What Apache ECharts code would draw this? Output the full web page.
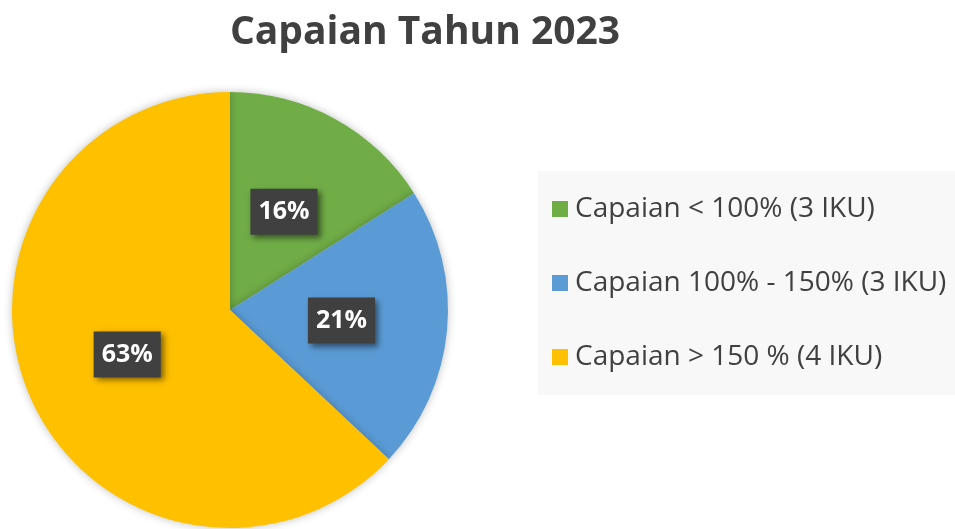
<!DOCTYPE html>
<html>
<head>
<meta charset="utf-8">
<script src="https://cdn.jsdelivr.net/npm/echarts@6/dist/echarts.min.js"></script>
<style>
  html, body { margin: 0; padding: 0; background: #fff; }
  #chart { width: 955px; height: 529px; }
</style>
</head>
<body>
<div id="chart"></div>
<script>
const kategori = ['Capaian < 100% (3 IKU)', 'Capaian 100% - 150% (3 IKU)', 'Capaian > 150 % (4 IKU)'];
const persen = [16, 21, 63];
const warna = ['#70ad47', '#5b9bd5', '#ffc000'];

const chart = echarts.init(document.getElementById('chart'));

let data = [];
for (let i = 0; i < kategori.length; i++) {
    data.push({ name: kategori[i], value: persen[i], itemStyle: { color: warna[i] } });
}

chart.setOption({
    animation: false,
    title: {
        text: 'Capaian Tahun 2023',
        left: 420,
        textAlign: 'center',
        top: 8,
        textStyle: {
            fontFamily: 'Open Sans',
            fontWeight: 'bold',
            fontSize: 39,
            color: '#404040'
        }
    },
    legend: {
        orient: 'vertical',
        left: 538,
        top: 171,
        padding: [24, 60, 24, 14],
        backgroundColor: '#f8f8f8',
        itemWidth: 16,
        itemHeight: 16,
        itemGap: 46,
        icon: 'rect',
        selectedMode: false,
        textStyle: {
            fontFamily: 'Open Sans',
            fontSize: 28,
            lineHeight: 28,
            color: '#404040',
            padding: [0, 0, 0, 2]
        },
        data: kategori
    },
    series: [{
        type: 'pie',
        center: [230, 310],
        radius: 218,
        startAngle: 90,
        clockwise: true,
        itemStyle: {
            shadowBlur: 8,
            shadowColor: 'rgba(0,0,0,0.25)'
        },
        emphasis: { disabled: true },
        label: {
            show: true,
            position: 'inside',
            formatter: '{d}%',
            fontFamily: 'Open Sans',
            fontWeight: 'bold',
            fontSize: 25,
            lineHeight: 26,
            color: '#ffffff',
            backgroundColor: '#404040',
            padding: [10, 8, 10, 8],
            shadowColor: 'rgba(0,0,0,0.5)',
            shadowBlur: 6,
            shadowOffsetX: 3,
            shadowOffsetY: 3
        },
        labelLine: { show: false },
        data: data
    }]
});
</script>
</body>
</html>
